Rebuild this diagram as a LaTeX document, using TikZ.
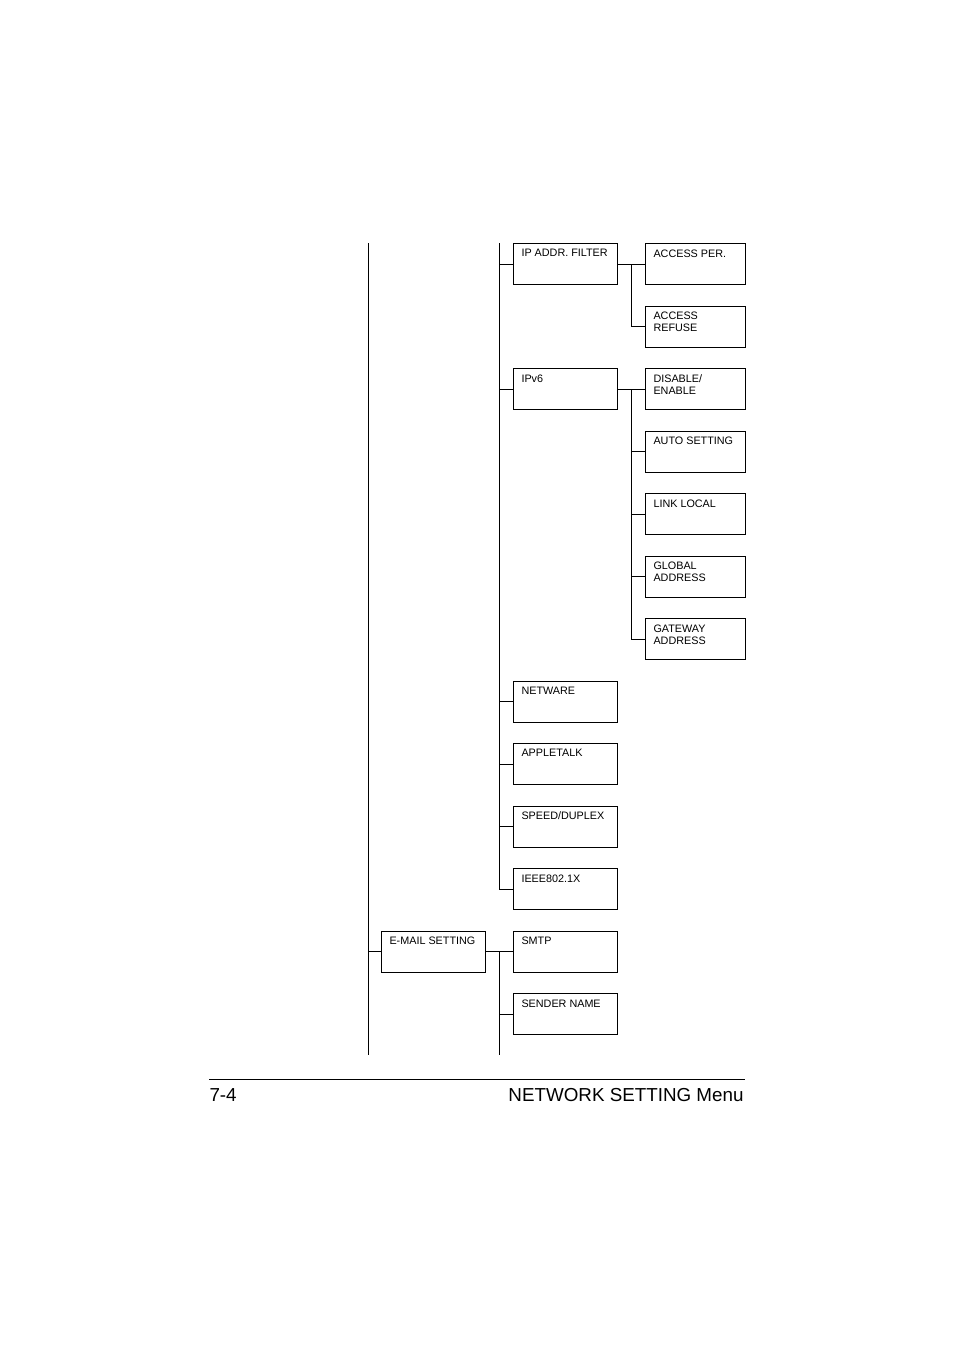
\documentclass[tikz,border=0pt]{standalone}
\usepackage{fontspec}
\setmainfont{Liberation Sans}
\usepackage{tikz}

\begin{document}
\begin{tikzpicture}[x=1pt, y=-1pt, line width=1pt,
	item/.style={draw, inner sep=0pt, minimum height=41pt, anchor=north west},
	wide/.style={item, minimum width=104pt},
	narrow/.style={item, minimum width=100pt},
	lbl/.style={anchor=north west, inner sep=0pt, xshift=8pt, yshift=-6pt, align=left, font=\fontsize{10.8}{12.3}\selectfont}]
	\useasboundingbox (0,0) rectangle (954,1350);
	% menu boxes
	\node[wide, label={[lbl]north west:IP ADDR. FILTER}] (ipf) at (513,243) {};
	\node[wide, label={[lbl]north west:IPv6}] (ipv) at (513,368) {};
	\node[wide, label={[lbl]north west:NETWARE}] (netw) at (513,680.5) {};
	\node[wide, label={[lbl]north west:APPLETALK}] (atalk) at (513,743) {};
	\node[wide, label={[lbl]north west:SPEED/DUPLEX}] (speed) at (513,805.5) {};
	\node[wide, label={[lbl]north west:IEEE802.1X}] (ieee) at (513,868) {};
	\node[wide, label={[lbl]north west:SMTP}] (smtp) at (513,930.5) {};
	\node[wide, label={[lbl]north west:SENDER NAME}] (sender) at (513,993) {};
	\node[wide, label={[lbl]north west:E-MAIL SETTING}] (email) at (381,930.5) {};
	\node[narrow, label={[lbl]north west:ACCESS PER.}] (accper) at (645,243) {};
	\node[narrow, label={[lbl]north west:{ACCESS\\REFUSE}}] (accref) at (645,305.5) {};
	\node[narrow, label={[lbl]north west:{DISABLE/\\ENABLE}}] (disen) at (645,368) {};
	\node[narrow, label={[lbl]north west:AUTO SETTING}] (auto) at (645,430.5) {};
	\node[narrow, label={[lbl]north west:LINK LOCAL}] (link) at (645,493) {};
	\node[narrow, label={[lbl]north west:{GLOBAL\\ADDRESS}}] (glob) at (645,555.5) {};
	\node[narrow, label={[lbl]north west:{GATEWAY\\ADDRESS}}] (gate) at (645,618) {};
	% trunk lines
	\coordinate (atop) at (368,243);
	\coordinate (abot) at (368,1055);
	\coordinate (btop) at (499,243);
	\coordinate (bbot) at (499,1055);
	\coordinate (cx) at (631,0);
	\draw (atop) -- (abot);
	\draw (email.west) -- (email.west -| atop);
	\draw (btop) -- (ieee.west -| btop);
	\foreach \n in {ipf, ipv, netw, atalk, speed, ieee}
		\draw (\n.west) -- (\n.west -| btop);
	\draw (email.east) -- (smtp.west);
	\draw (smtp.west -| bbot) -- (bbot);
	\draw (sender.west) -- (sender.west -| bbot);
	\draw (ipf.east) -- (accper.west);
	\draw (ipf.east -| cx) |- (accref.west);
	\draw (ipv.east) -- (disen.west);
	\draw (ipv.east -| cx) |- (gate.west);
	\foreach \n in {auto, link, glob}
		\draw (\n.west) -- (\n.west -| cx);
	% page footer
	\coordinate (fl) at (209,1079);
	\coordinate (fr) at (745,1079);
	\draw (fl) -- (fr);
	\node[anchor=base west, inner sep=0pt, font=\fontsize{18.8}{22}\selectfont] (pnum) at (209,1101) {7-4};
	\node[anchor=base east, inner sep=0pt, font=\fontsize{18.8}{22}\selectfont] (ptitle) at (744,1101) {NETWORK SETTING Menu};
\end{tikzpicture}
\end{document}
